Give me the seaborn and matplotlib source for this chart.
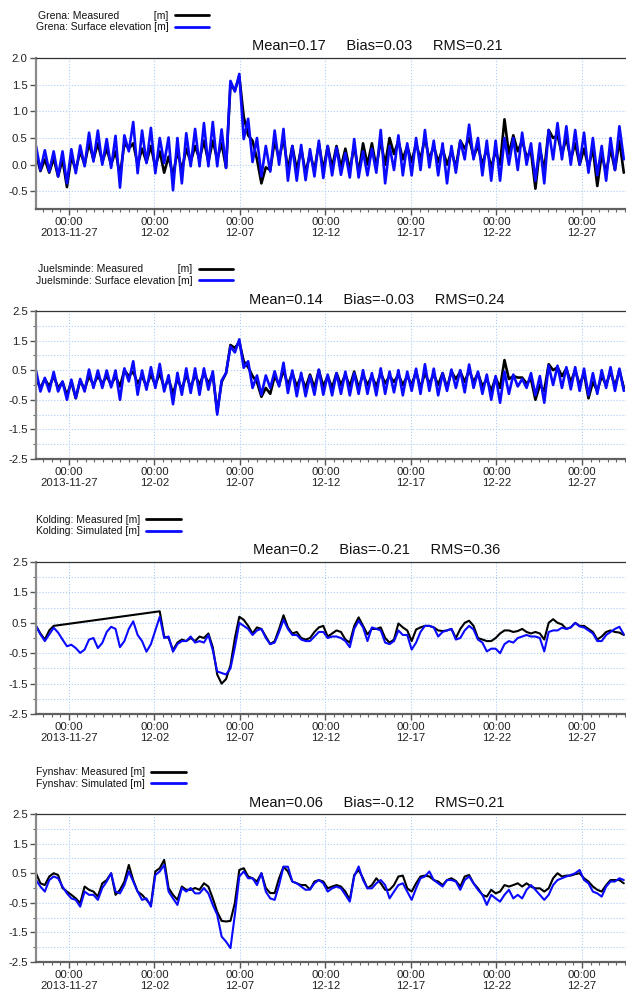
import pandas as pd
import seaborn as sns
import matplotlib.pyplot as plt
import matplotlib.dates as mdates
from matplotlib.ticker import FixedLocator, MultipleLocator, FormatStrFormatter
from matplotlib.lines import Line2D

nan = float('nan')

# time axis: one value every half tidal period
t_start = '2013-11-25 02:00'
t_step = '372min'
x_end = '2013-12-29 13:40'

tick_days = ['2013-11-27', '2013-12-02', '2013-12-07', '2013-12-12',
             '2013-12-17', '2013-12-22', '2013-12-27']
tick_labels = ['00:00\n2013-11-27', '00:00\n12-02', '00:00\n12-07', '00:00\n12-12',
               '00:00\n12-17', '00:00\n12-22', '00:00\n12-27']

stations = ['Grena', 'Juelsminde', 'Kolding', 'Fynshav']
meas_labels = ['Grena: Measured            [m]', 'Juelsminde: Measured            [m]',
               'Kolding: Measured [m]', 'Fynshav: Measured [m]']
sim_labels = ['Grena: Surface elevation [m]', 'Juelsminde: Surface elevation [m]',
              'Kolding: Simulated [m]', 'Fynshav: Simulated [m]']
mean_vals = ['0.17', '0.14', '0.2', '0.06']
bias_vals = ['0.03', '-0.03', '-0.21', '-0.12']
rms_vals = ['0.21', '0.24', '0.36', '0.21']

grena_meas = [
    0.20, -0.12, 0.10, -0.15, 0.12, -0.22, 0.10, -0.42, 0.15, -0.10,
    0.25, 0.00, 0.40, 0.10, 0.40, 0.05, 0.30, 0.00, 0.25, -0.20,
    0.40, 0.30, 0.40, 0.00, 0.30, 0.05, 0.35, -0.05, 0.25, -0.15,
    0.15, -0.20, 0.25, -0.10, 0.30, 0.05, 0.35, 0.10, 0.45, 0.05,
    0.45, 0.10, 0.40, -0.06, 1.50, 1.40, 1.65, 0.90, 0.55, 0.45,
    0.10, -0.35, -0.05, -0.10, 0.45, 0.10, 0.50, -0.10, 0.35, -0.10,
    0.30, -0.15, 0.20, -0.10, 0.40, -0.10, 0.35, -0.05, 0.35, -0.05,
    0.30, -0.10, 0.35, -0.15, 0.40, 0.00, 0.40, -0.05, 0.45, 0.00,
    0.50, 0.20, 0.45, 0.10, 0.35, 0.05, 0.40, 0.10, 0.50, 0.10,
    0.35, 0.05, 0.30, 0.00, 0.25, -0.05, 0.45, 0.30, 0.50, 0.15,
    0.35, 0.00, 0.30, -0.05, 0.25, 0.00, 0.85, 0.20, 0.55, 0.25,
    0.45, 0.15, 0.25, -0.45, 0.30, -0.10, 0.65, 0.50, 0.55, 0.20,
    0.50, 0.10, 0.40, 0.00, 0.30, -0.05, 0.30, -0.40, 0.20, -0.15,
    0.30, -0.10, 0.45, -0.15]
grena_sim = [
    0.35, -0.10, 0.27, -0.13, 0.25, -0.22, 0.25, -0.35, 0.29, -0.16,
    0.36, -0.03, 0.60, 0.06, 0.64, 0.00, 0.48, -0.06, 0.54, -0.43,
    0.55, 0.25, 0.80, -0.16, 0.64, 0.03, 0.69, -0.16, 0.50, 0.03,
    0.51, -0.48, 0.50, -0.35, 0.59, -0.03, 0.67, -0.03, 0.78, -0.03,
    0.80, -0.03, 0.66, -0.06, 1.57, 1.37, 1.70, 0.48, 0.86, 0.05,
    0.50, -0.22, 0.35, -0.13, 0.64, 0.00, 0.67, -0.30, 0.35, -0.30,
    0.37, -0.29, 0.29, -0.22, 0.45, -0.25, 0.35, -0.20, 0.32, -0.19,
    0.22, -0.24, 0.48, -0.24, 0.25, -0.20, 0.30, -0.15, 0.65, -0.35,
    0.35, -0.10, 0.55, -0.20, 0.40, -0.20, 0.50, -0.10, 0.65, -0.05,
    0.45, -0.20, 0.40, -0.35, 0.35, -0.15, 0.45, 0.10, 0.75, 0.10,
    0.50, -0.20, 0.45, -0.30, 0.45, -0.30, 0.50, 0.00, 0.50, -0.10,
    0.60, 0.00, 0.40, -0.30, 0.40, -0.35, 0.65, 0.10, 0.78, 0.10,
    0.72, 0.00, 0.65, 0.00, 0.60, -0.15, 0.50, -0.20, 0.35, -0.30,
    0.50, -0.10, 0.72, 0.10]

juels_meas = [
    0.20, -0.10, 0.20, -0.05, 0.30, -0.10, 0.10, -0.35, 0.10, -0.45,
    0.15, -0.15, 0.30, 0.00, 0.30, 0.05, 0.30, 0.00, 0.30, -0.05,
    0.50, 0.30, 0.45, 0.05, 0.30, -0.05, 0.35, 0.00, 0.40, -0.10,
    0.20, -0.30, 0.20, -0.15, 0.35, -0.10, 0.35, 0.00, 0.40, 0.05,
    0.35, -0.90, 0.10, 0.40, 1.35, 1.25, 1.45, 0.80, 0.60, 0.30,
    0.10, -0.40, -0.10, -0.30, 0.30, 0.00, 0.50, 0.00, 0.40, -0.05,
    0.30, -0.10, 0.35, -0.10, 0.50, -0.05, 0.30, -0.10, 0.40, 0.00,
    0.35, -0.05, 0.45, -0.10, 0.35, 0.00, 0.30, -0.05, 0.40, 0.05,
    0.30, 0.10, 0.35, 0.00, 0.30, 0.00, 0.45, -0.10, 0.40, 0.05,
    0.35, 0.00, 0.40, -0.10, 0.45, 0.20, 0.45, 0.10, 0.50, 0.10,
    0.40, -0.05, 0.20, -0.20, 0.25, -0.10, 0.84, 0.20, 0.30, 0.25,
    0.25, 0.05, 0.20, -0.50, 0.00, -0.20, 0.70, 0.50, 0.60, 0.30,
    0.55, 0.10, 0.50, 0.00, 0.40, -0.45, 0.10, -0.20, 0.30, 0.00,
    0.45, -0.05, 0.50, -0.10]
juels_sim = [
    0.49, -0.22, 0.24, -0.22, 0.44, -0.22, 0.12, -0.50, 0.18, -0.44,
    0.20, -0.22, 0.52, -0.10, 0.49, -0.10, 0.49, -0.08, 0.49, -0.50,
    0.56, 0.12, 0.80, -0.33, 0.49, -0.16, 0.60, -0.10, 0.71, -0.22,
    0.33, -0.65, 0.41, -0.33, 0.56, -0.27, 0.56, -0.33, 0.56, -0.16,
    0.46, -1.00, 0.15, 0.40, 1.30, 1.10, 1.54, 0.58, 0.80, -0.10,
    0.32, -0.33, 0.32, -0.10, 0.46, -0.05, 0.75, -0.27, 0.49, -0.38,
    0.41, -0.38, 0.30, -0.33, 0.52, -0.33, 0.35, -0.35, 0.40, -0.30,
    0.45, -0.35, 0.40, -0.30, 0.50, -0.30, 0.40, -0.35, 0.56, -0.30,
    0.45, -0.25, 0.50, -0.35, 0.45, -0.20, 0.55, -0.30, 0.70, -0.20,
    0.55, -0.35, 0.40, -0.20, 0.52, -0.10, 0.50, -0.25, 0.69, -0.10,
    0.45, -0.30, 0.35, -0.50, 0.30, -0.60, 0.45, -0.30, 0.35, -0.05,
    0.20, -0.10, 0.40, -0.35, 0.30, -0.60, 0.65, 0.00, 0.65, -0.10,
    0.60, -0.15, 0.60, -0.20, 0.55, -0.35, 0.40, -0.30, 0.50, -0.10,
    0.60, -0.20, 0.55, -0.20]

kold_meas = [
    0.40, 0.15, -0.05, 0.25, 0.40, nan, nan, nan, nan, nan,
    nan, nan, nan, nan, nan, nan, nan, nan, nan, nan,
    nan, nan, nan, nan, nan, nan, nan, nan, 0.88, 0.05,
    0.00, -0.40, -0.15, -0.05, -0.10, 0.00, -0.10, 0.05, 0.00, 0.15,
    -0.30, -1.20, -1.50, -1.35, -0.90, 0.00, 0.70, 0.60, 0.40, 0.15,
    0.35, 0.30, 0.05, -0.20, -0.10, 0.30, 0.75, 0.35, 0.15, 0.20,
    0.00, -0.05, 0.00, 0.20, 0.35, 0.40, 0.05, 0.15, 0.25, 0.20,
    -0.05, -0.15, 0.40, 0.68, 0.40, 0.12, 0.30, 0.30, 0.35, 0.00,
    -0.15, -0.05, 0.48, 0.35, 0.25, -0.10, 0.28, 0.35, 0.40, 0.40,
    0.35, 0.25, 0.23, 0.25, 0.30, 0.00, 0.30, 0.50, 0.57, 0.40,
    0.00, -0.05, -0.10, -0.10, 0.00, 0.15, 0.25, 0.25, 0.20, 0.23,
    0.30, 0.20, 0.15, 0.20, 0.15, -0.05, 0.50, 0.62, 0.50, 0.45,
    0.30, 0.35, 0.50, 0.40, 0.40, 0.30, 0.20, -0.05, 0.05, 0.20,
    0.25, 0.20, 0.18, 0.10]
kold_sim = [
    0.40, 0.12, -0.10, 0.12, 0.34, 0.18, -0.05, -0.27, -0.22, -0.33,
    -0.49, -0.38, -0.05, 0.00, -0.33, -0.16, 0.20, 0.37, 0.30, -0.30,
    -0.10, 0.30, 0.55, 0.10, -0.10, -0.45, -0.20, 0.25, 0.70, 0.00,
    0.05, -0.45, -0.20, -0.10, -0.10, 0.05, -0.15, -0.10, -0.15, 0.10,
    -0.40, -1.10, -1.15, -1.20, -1.00, -0.30, 0.50, 0.40, 0.30, 0.10,
    0.25, 0.30, 0.00, -0.20, -0.15, 0.20, 0.60, 0.30, 0.10, 0.10,
    -0.05, -0.10, -0.10, 0.05, 0.20, 0.20, 0.00, 0.05, 0.05, 0.00,
    -0.10, -0.30, 0.30, 0.57, 0.35, -0.10, 0.35, 0.30, 0.25, -0.15,
    -0.20, -0.10, 0.25, 0.10, 0.10, -0.38, -0.15, 0.20, 0.40, 0.40,
    0.35, 0.05, 0.20, 0.25, 0.30, -0.05, 0.00, 0.25, 0.40, 0.28,
    -0.05, -0.15, -0.44, -0.35, -0.35, -0.50, -0.20, -0.10, -0.15, 0.00,
    0.05, 0.10, 0.05, 0.05, 0.00, -0.44, 0.20, 0.25, 0.25, 0.34,
    0.30, 0.35, 0.50, 0.38, 0.35, 0.25, 0.15, -0.10, -0.10, 0.10,
    0.20, 0.30, 0.37, 0.12]

fyn_meas = [
    0.50, 0.16, 0.10, 0.39, 0.50, 0.44, 0.00, -0.12, -0.23, -0.35,
    -0.51, 0.05, -0.06, -0.12, -0.29, 0.16, 0.27, 0.50, -0.23, -0.06,
    0.22, 0.78, 0.27, -0.12, -0.23, -0.40, -0.57, 0.56, 0.67, 0.95,
    0.00, -0.23, -0.40, 0.05, -0.06, -0.06, 0.00, -0.06, 0.16, 0.05,
    -0.35, -0.80, -1.11, -1.13, -1.11, -0.50, 0.61, 0.67, 0.39, 0.33,
    0.22, 0.50, 0.00, -0.17, -0.17, 0.33, 0.72, 0.56, 0.22, 0.16,
    0.10, 0.10, -0.05, 0.22, 0.27, 0.22, -0.01, 0.05, 0.10, 0.05,
    -0.12, -0.40, 0.44, 0.61, 0.33, -0.01, 0.10, 0.33, 0.16, -0.06,
    -0.06, 0.10, 0.39, 0.42, -0.01, -0.12, 0.16, 0.39, 0.42, 0.39,
    0.27, 0.22, 0.10, 0.27, 0.33, 0.24, 0.05, 0.39, 0.44, 0.16,
    -0.01, -0.23, -0.29, -0.06, -0.18, -0.12, 0.10, 0.05, 0.10, 0.16,
    0.05, 0.16, 0.05, -0.01, -0.01, -0.12, -0.01, 0.33, 0.50, 0.39,
    0.42, 0.42, 0.47, 0.50, 0.33, 0.22, 0.05, -0.06, -0.12, 0.10,
    0.27, 0.27, 0.27, 0.16]
fyn_sim = [
    0.27, 0.05, -0.12, 0.27, 0.39, 0.33, 0.05, -0.18, -0.35, -0.40,
    -0.63, -0.12, -0.23, -0.23, -0.40, 0.00, 0.22, 0.50, -0.12, -0.18,
    0.10, 0.56, 0.22, -0.12, -0.40, -0.35, -0.63, 0.44, 0.56, 0.78,
    -0.12, -0.35, -0.57, 0.00, -0.12, 0.00, -0.18, -0.18, 0.00, -0.18,
    -0.57, -0.90, -1.64, -1.81, -2.03, -0.90, 0.39, 0.56, 0.33, 0.33,
    0.10, 0.50, -0.12, -0.35, -0.40, 0.10, 0.72, 0.72, 0.22, 0.16,
    0.05, -0.06, -0.05, 0.16, 0.27, 0.16, -0.12, -0.01, 0.05, -0.01,
    -0.23, -0.46, 0.39, 0.73, 0.27, -0.01, -0.01, 0.16, 0.27, 0.10,
    -0.35, -0.12, 0.10, 0.16, -0.12, -0.40, -0.01, 0.33, 0.39, 0.56,
    0.27, 0.16, 0.05, 0.27, 0.27, 0.22, -0.06, 0.27, 0.39, 0.16,
    -0.06, -0.23, -0.57, -0.23, -0.35, -0.46, -0.23, -0.06, -0.35, -0.23,
    -0.35, -0.06, 0.10, -0.06, -0.23, -0.40, -0.23, 0.10, 0.27, 0.33,
    0.39, 0.44, 0.50, 0.61, 0.27, 0.16, -0.12, -0.18, -0.29, 0.05,
    0.22, 0.22, 0.33, 0.27]

measured = [grena_meas, juels_meas, kold_meas, fyn_meas]
simulated = [grena_sim, juels_sim, kold_sim, fyn_sim]

sns.set_theme(style='white')
plt.rcParams['font.family'] = ['Liberation Sans', 'DejaVu Sans']
plt.rcParams['text.color'] = '#111111'

fig = plt.figure(figsize=(6.26, 9.96), dpi=100)
# [left, bottom, width, height] of each panel, figure fraction
boxes = [[0.0575, 0.7902, 0.9425, 0.1516],
         [0.0575, 0.5392, 0.9425, 0.1486],
         [0.0575, 0.2831, 0.9425, 0.1526],
         [0.0575, 0.0341, 0.9425, 0.1486]]
line_w = [1.9, 1.9, 1.5, 1.5]
grid_col = '#a9cdf7'

times = pd.date_range(t_start, periods=len(grena_meas), freq=t_step)
major_x = mdates.date2num(pd.to_datetime(tick_days))

for i in range(4):
    ax = fig.add_axes(boxes[i])
    df = pd.DataFrame({'time': times, 'meas': measured[i], 'sim': simulated[i]})
    dm = df[['time', 'meas']].dropna()
    sns.lineplot(x=dm['time'], y=dm['meas'], color='black', lw=line_w[i], ax=ax)
    sns.lineplot(x=df['time'], y=df['sim'], color='#0a0aff', lw=line_w[i], ax=ax)

    ax.set_xlim(pd.Timestamp(t_start), pd.Timestamp(x_end))
    ax.xaxis.set_major_locator(FixedLocator(major_x))
    ax.set_xticklabels(tick_labels, linespacing=1.05)
    ax.xaxis.set_minor_locator(mdates.HourLocator(byhour=[0, 12]))

    if i == 0:
        ax.set_ylim(-0.83, 2.0)
        ax.yaxis.set_major_locator(MultipleLocator(0.5))
        ax.grid(True, which='major', color=grid_col, ls=':', lw=0.8)
    else:
        ax.set_ylim(-2.5, 2.5)
        ax.yaxis.set_major_locator(FixedLocator([-2.5, -1.5, -0.5, 0.5, 1.5, 2.5]))
        ax.yaxis.set_minor_locator(FixedLocator([-2.0, -1.0, 0.0, 1.0, 2.0]))
        ax.grid(True, which='major', color=grid_col, ls=':', lw=0.8)
        ax.grid(True, which='minor', axis='y', color=grid_col, ls=':', lw=0.8)
    ax.yaxis.set_major_formatter(FormatStrFormatter('%.1f'))

    ax.set_xlabel('')
    ax.set_ylabel('')
    ax.tick_params(which='major', direction='out', length=4, width=1, color='#555555',
                   labelsize=8.2, labelcolor='#222222', bottom=True, left=True, pad=2)
    ax.tick_params(which='minor', direction='out', length=2.5, width=0.8, color='#666666',
                   bottom=True, left=True)

    ax.spines['right'].set_visible(False)
    ax.spines['left'].set_color('#8a8a8a')
    ax.spines['left'].set_linewidth(1.6)
    ax.spines['bottom'].set_color('#606060')
    ax.spines['bottom'].set_linewidth(1.6)
    ax.spines['top'].set_color('#333333')
    ax.spines['top'].set_linewidth(0.9)

    title = f'Mean={mean_vals[i]}     Bias={bias_vals[i]}     RMS={rms_vals[i]}'
    ax.text(0.578, 1.03, title, transform=ax.transAxes, ha='center', va='bottom',
            fontsize=10.5)

    handles = [Line2D([], [], color='black', lw=2), Line2D([], [], color='#0a0aff', lw=2)]
    ax.legend(handles, [meas_labels[i], sim_labels[i]], loc='lower left',
              bbox_to_anchor=(0.0, 1.17), frameon=False, markerfirst=False,
              fontsize=7.5, handlelength=3.3, handletextpad=0.6, borderpad=0,
              borderaxespad=0, labelspacing=0.15)

fig.savefig('out.png', dpi=100)
